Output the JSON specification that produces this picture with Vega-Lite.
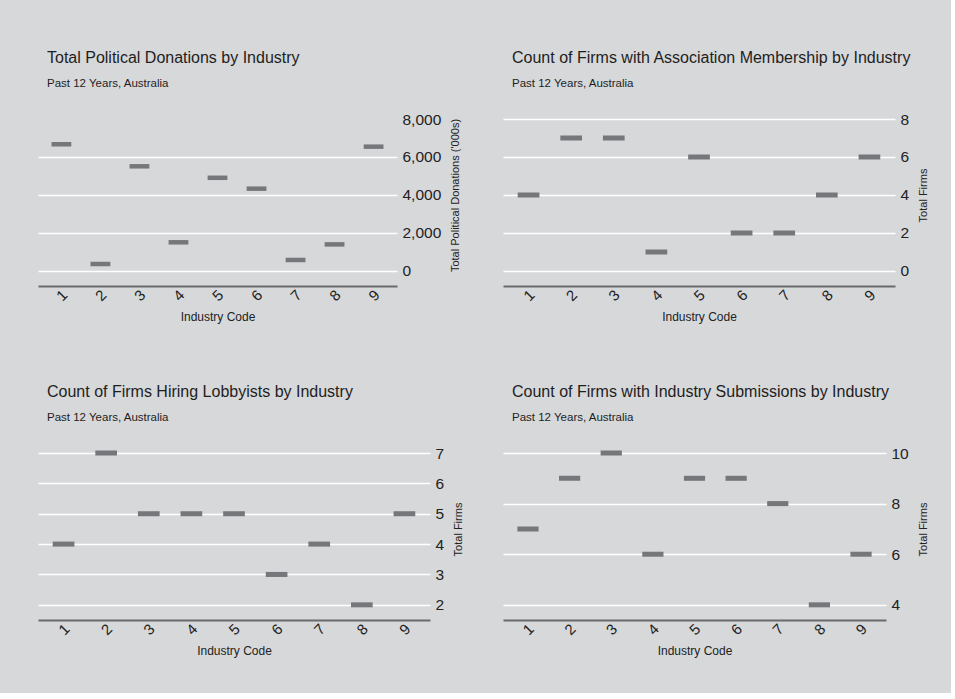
{
  "$schema": "https://vega.github.io/schema/vega-lite/v6.json",
  "background": "#d7d8da",
  "padding": {"left": 38, "top": 49, "right": 22, "bottom": 36},
  "datasets": {
    "donations": [
      {"industry": 1, "value": 6670},
      {"industry": 2, "value": 370},
      {"industry": 3, "value": 5510},
      {"industry": 4, "value": 1510},
      {"industry": 5, "value": 4905},
      {"industry": 6, "value": 4333},
      {"industry": 7, "value": 580},
      {"industry": 8, "value": 1400},
      {"industry": 9, "value": 6544}
    ],
    "association": [
      {"industry": 1, "value": 4},
      {"industry": 2, "value": 7},
      {"industry": 3, "value": 7},
      {"industry": 4, "value": 1},
      {"industry": 5, "value": 6},
      {"industry": 6, "value": 2},
      {"industry": 7, "value": 2},
      {"industry": 8, "value": 4},
      {"industry": 9, "value": 6}
    ],
    "lobbyists": [
      {"industry": 1, "value": 4},
      {"industry": 2, "value": 7},
      {"industry": 3, "value": 5},
      {"industry": 4, "value": 5},
      {"industry": 5, "value": 5},
      {"industry": 6, "value": 3},
      {"industry": 7, "value": 4},
      {"industry": 8, "value": 2},
      {"industry": 9, "value": 5}
    ],
    "submissions": [
      {"industry": 1, "value": 7},
      {"industry": 2, "value": 9},
      {"industry": 3, "value": 10},
      {"industry": 4, "value": 6},
      {"industry": 5, "value": 9},
      {"industry": 6, "value": 9},
      {"industry": 7, "value": 8},
      {"industry": 8, "value": 4},
      {"industry": 9, "value": 6}
    ]
  },
  "bounds": "flush",
  "spacing": 334,
  "vconcat": [
    {
      "bounds": "flush",
      "spacing": 106,
      "hconcat": [
        {
          "width": 359,
          "height": 167,
          "data": {"name": "donations"},
          "title": {"text": "Total Political Donations by Industry", "subtitle": "Past 12 Years, Australia"},
          "mark": {"type": "tick", "orient": "horizontal", "size": 19.8, "thickness": 4.5, "color": "#76777a", "opacity": 1},
          "encoding": {
            "x": {"field": "industry", "type": "quantitative", "scale": {"domain": [0.4, 9.6], "nice": false, "zero": false}, "axis": {"values": [1, 2, 3, 4, 5, 6, 7, 8, 9], "title": "Industry Code"}},
            "y": {"field": "value", "type": "quantitative", "scale": {"domain": [-790, 8000], "nice": false, "zero": false}, "axis": {"orient": "right", "values": [0, 2000, 4000, 6000, 8000], "format": ",d", "title": "Total Political Donations ('000s)", "gridOpacity": {"condition": {"test": "datum.value >= 8000", "value": 0}, "value": 1}}}
          }
        },
        {
          "width": 392,
          "height": 167,
          "data": {"name": "association"},
          "title": {"text": "Count of Firms with Association Membership by Industry", "subtitle": "Past 12 Years, Australia"},
          "mark": {"type": "tick", "orient": "horizontal", "size": 21.7, "thickness": 5, "color": "#76777a", "opacity": 1},
          "encoding": {
            "x": {"field": "industry", "type": "quantitative", "scale": {"domain": [0.4, 9.6], "nice": false, "zero": false}, "axis": {"values": [1, 2, 3, 4, 5, 6, 7, 8, 9], "title": "Industry Code"}},
            "y": {"field": "value", "type": "quantitative", "scale": {"domain": [-0.79, 8], "nice": false, "zero": false}, "axis": {"orient": "right", "values": [0, 2, 4, 6, 8], "format": "d", "title": "Total Firms"}}
          }
        }
      ]
    },
    {
      "bounds": "flush",
      "spacing": 73,
      "hconcat": [
        {
          "width": 392,
          "height": 167,
          "data": {"name": "lobbyists"},
          "title": {"text": "Count of Firms Hiring Lobbyists by Industry", "subtitle": "Past 12 Years, Australia"},
          "mark": {"type": "tick", "orient": "horizontal", "size": 21.7, "thickness": 5, "color": "#76777a", "opacity": 1},
          "encoding": {
            "x": {"field": "industry", "type": "quantitative", "scale": {"domain": [0.4, 9.6], "nice": false, "zero": false}, "axis": {"values": [1, 2, 3, 4, 5, 6, 7, 8, 9], "title": "Industry Code"}},
            "y": {"field": "value", "type": "quantitative", "scale": {"domain": [1.5, 7], "nice": false, "zero": false}, "axis": {"orient": "right", "values": [2, 3, 4, 5, 6, 7], "format": "d", "title": "Total Firms"}}
          }
        },
        {
          "width": 383,
          "height": 167,
          "data": {"name": "submissions"},
          "title": {"text": "Count of Firms with Industry Submissions by Industry", "subtitle": "Past 12 Years, Australia"},
          "mark": {"type": "tick", "orient": "horizontal", "size": 21.2, "thickness": 5, "color": "#76777a", "opacity": 1},
          "encoding": {
            "x": {"field": "industry", "type": "quantitative", "scale": {"domain": [0.4, 9.6], "nice": false, "zero": false}, "axis": {"values": [1, 2, 3, 4, 5, 6, 7, 8, 9], "title": "Industry Code"}},
            "y": {"field": "value", "type": "quantitative", "scale": {"domain": [3.4, 10], "nice": false, "zero": false}, "axis": {"orient": "right", "values": [4, 6, 8, 10], "format": "d", "title": "Total Firms"}}
          }
        }
      ]
    }
  ],
  "config": {
    "font": "Liberation Sans",
    "view": {"stroke": null},
    "title": {"anchor": "start", "frame": "group", "fontSize": 16, "fontWeight": "normal", "color": "#1e1e1e", "subtitleFontSize": 11.5, "subtitleColor": "#1e1e1e", "subtitlePadding": 12, "offset": 23, "dx": 9},
    "axisX": {"domainColor": "#6a6a6a", "domainWidth": 2, "ticks": false, "grid": false, "labelAngle": -45, "labelAlign": "center", "labelBaseline": "middle", "labelPadding": 9, "labelFontSize": 15, "labelColor": "#222222", "labelFlush": false, "titleFontSize": 12, "titleFontWeight": "normal", "titleColor": "#222222", "titlePadding": 8, "format": "d"},
    "axisY": {"domain": false, "ticks": false, "grid": true, "gridColor": "#ffffff", "gridWidth": 1.5, "labelFontSize": 15.5, "labelPadding": 5, "labelColor": "#222222", "labelFlush": false, "titleFontSize": 11, "titleFontWeight": "normal", "titleColor": "#222222", "titleAngle": 270, "titlePadding": 20, "titleY": 76}
  }
}
